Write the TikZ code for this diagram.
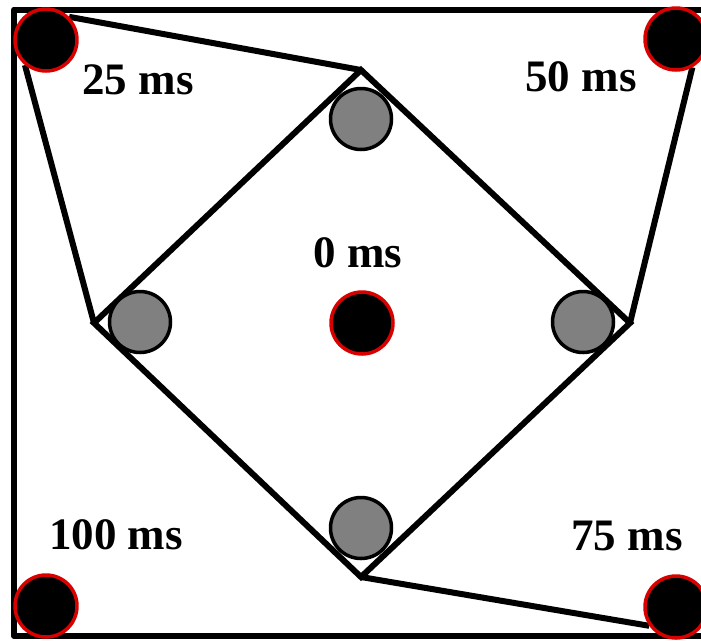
\documentclass[tikz,border=0pt]{standalone}
\usepackage{fontspec}
\setmainfont{Liberation Serif}
\usetikzlibrary{backgrounds}
\begin{document}
\begin{tikzpicture}[x=1pt,y=-1pt,line cap=round,line join=round,
  every node/.style={font=\fontsize{45}{50}\selectfont\bfseries,inner sep=0pt},
  stim/.style={circle,draw=red!85!black,fill=black,line width=3.5pt,minimum size=62pt},
  probe/.style={circle,draw=black,fill=gray,line width=3.5pt,minimum size=61pt},
  wire/.style={line width=6pt}]
  \useasboundingbox (0,0) rectangle (701,641);
  \clip (0,0) rectangle (701,641);
  % outer frame (cut off at the right)
  \draw[wire,line cap=butt] (705,9.5) -- (14,9.5) -- (14,636) -- (705,636);
  % diamond corners
  \coordinate (top) at (361,70);
  \coordinate (lft) at (94,323);
  \coordinate (rgt) at (630,323);
  \coordinate (bot) at (361,577);
  % stimulus dots with their delays
  \node[stim] (c0) at (362,323) {};
  \node[stim] (c25) at (46,40) {};
  \node[stim] (c50) at (676,39) {};
  \node[stim] (c75) at (676,607) {};
  \node[stim] (c100) at (46,606) {};
  \node (t0) at (358,253) {0 ms};
  \node (t25) at (138,80) {25 ms};
  \node (t50) at (581,77) {50 ms};
  \node (t75) at (627,536) {75 ms};
  \node (t100) at (116,535) {100 ms};
  % grey probes sitting in the diamond corners
  \foreach \nm/\px/\py in {pt/361/119,pl/140/322,pr/583/322,pb/361/528}
    \node[probe] (\nm) at (\px,\py) {};
  % lines, kept behind the dots
  \begin{scope}[on background layer]
    \draw[wire,line join=miter] (top) -- (rgt) -- (bot) -- (lft) -- cycle;
    \draw[wire] (c25.45) -- (top);
    \draw[wire] (c25.230) -- (lft);
    \draw[wire] (c50.300) -- (rgt);
    \draw[wire] (bot) -- (c75.215);
  \end{scope}
\end{tikzpicture}
\end{document}
